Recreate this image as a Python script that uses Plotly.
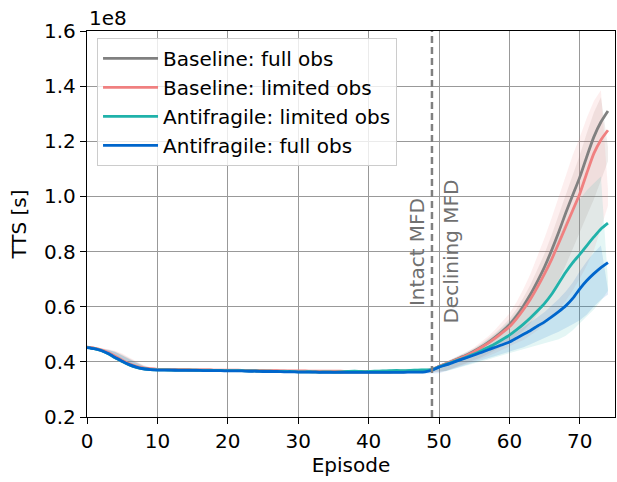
import plotly.graph_objects as go

episodes = list(range(75))

baseline_full = [0.453, 0.449, 0.442, 0.431, 0.417, 0.403, 0.391, 0.382, 0.376, 0.373,
                 0.372, 0.372, 0.371, 0.371, 0.371, 0.370, 0.370, 0.370, 0.369, 0.369,
                 0.369, 0.368, 0.368, 0.368, 0.367, 0.367, 0.366, 0.366, 0.366, 0.365,
                 0.365, 0.365, 0.364, 0.364, 0.364, 0.364, 0.363, 0.363, 0.363, 0.363,
                 0.363, 0.363, 0.363, 0.363, 0.364, 0.364, 0.365, 0.366, 0.367, 0.372,
                 0.383, 0.393, 0.404, 0.415, 0.426, 0.439, 0.454, 0.471, 0.490, 0.511,
                 0.535, 0.566, 0.603, 0.645, 0.693, 0.745, 0.805, 0.870, 0.940, 1.005,
                 1.070, 1.145, 1.216, 1.270, 1.310]
baseline_limited = [0.453, 0.450, 0.444, 0.434, 0.420, 0.406, 0.393, 0.384, 0.378, 0.375,
                    0.373, 0.373, 0.372, 0.372, 0.372, 0.371, 0.371, 0.371, 0.370, 0.370,
                    0.370, 0.370, 0.369, 0.369, 0.369, 0.368, 0.368, 0.368, 0.367, 0.367,
                    0.367, 0.367, 0.366, 0.366, 0.366, 0.366, 0.366, 0.365, 0.365, 0.365,
                    0.365, 0.365, 0.365, 0.365, 0.366, 0.366, 0.366, 0.367, 0.368, 0.372,
                    0.383, 0.393, 0.403, 0.413, 0.424, 0.437, 0.452, 0.468, 0.486, 0.506,
                    0.527, 0.556, 0.590, 0.628, 0.672, 0.720, 0.772, 0.830, 0.890, 0.950,
                    1.010, 1.085, 1.156, 1.205, 1.240]
antifragile_limited = [0.452, 0.448, 0.441, 0.429, 0.415, 0.401, 0.389, 0.380, 0.375, 0.372,
                       0.371, 0.371, 0.370, 0.370, 0.370, 0.370, 0.369, 0.369, 0.369, 0.369,
                       0.368, 0.368, 0.368, 0.367, 0.367, 0.366, 0.366, 0.365, 0.365, 0.365,
                       0.364, 0.364, 0.364, 0.363, 0.364, 0.363, 0.364, 0.365, 0.366, 0.365,
                       0.365, 0.366, 0.367, 0.368, 0.369, 0.368, 0.369, 0.370, 0.371, 0.372,
                       0.382, 0.391, 0.400, 0.409, 0.418, 0.428, 0.440, 0.453, 0.466, 0.481,
                       0.497, 0.516, 0.537, 0.560, 0.585, 0.612, 0.645, 0.685, 0.725, 0.760,
                       0.790, 0.822, 0.853, 0.882, 0.903]
antifragile_full = [0.452, 0.448, 0.441, 0.430, 0.416, 0.402, 0.390, 0.381, 0.375, 0.372,
                    0.370, 0.370, 0.370, 0.369, 0.369, 0.369, 0.369, 0.368, 0.368, 0.368,
                    0.367, 0.367, 0.367, 0.366, 0.366, 0.365, 0.365, 0.365, 0.364, 0.364,
                    0.363, 0.363, 0.363, 0.362, 0.362, 0.362, 0.362, 0.362, 0.362, 0.362,
                    0.362, 0.362, 0.362, 0.362, 0.362, 0.362, 0.363, 0.363, 0.364, 0.370,
                    0.381, 0.389, 0.398, 0.407, 0.416, 0.425, 0.434, 0.444, 0.453, 0.462,
                    0.472, 0.486, 0.500, 0.514, 0.530, 0.545, 0.563, 0.582, 0.603, 0.630,
                    0.665, 0.695, 0.720, 0.742, 0.760]

std_baseline_full = [0.004] * 49 + [0.004, 0.005, 0.006, 0.007, 0.008, 0.009, 0.010, 0.012, 0.014, 0.016,
                                    0.018, 0.021, 0.025, 0.030, 0.036, 0.042, 0.048, 0.055, 0.062, 0.068,
                                    0.074, 0.080, 0.085, 0.088, 0.090]
std_baseline_limited = [0.004] * 49 + [0.004, 0.005, 0.007, 0.009, 0.011, 0.013, 0.016, 0.020, 0.025, 0.031,
                                       0.038, 0.048, 0.060, 0.075, 0.092, 0.110, 0.130, 0.150, 0.170, 0.188,
                                       0.200, 0.205, 0.200, 0.190, 0.180]
std_antifragile_limited = [0.005] * 49 + [0.006, 0.007, 0.009, 0.011, 0.013, 0.016, 0.019, 0.023, 0.028, 0.034,
                                          0.041, 0.050, 0.062, 0.076, 0.092, 0.110, 0.130, 0.150, 0.170, 0.185,
                                          0.195, 0.200, 0.200, 0.195, 0.190]
std_antifragile_full = [0.005] * 49 + [0.005, 0.006, 0.007, 0.008, 0.009, 0.010, 0.011, 0.012, 0.013, 0.015,
                                       0.017, 0.019, 0.022, 0.025, 0.028, 0.032, 0.036, 0.041, 0.046, 0.052,
                                       0.058, 0.064, 0.070, 0.076, 0.080]

series = [
    ("Baseline: full obs", baseline_full, std_baseline_full, "#808080", "rgba(150,120,110,0.14)"),
    ("Baseline: limited obs", baseline_limited, std_baseline_limited, "#f08080", "rgba(240,128,128,0.13)"),
    ("Antifragile: limited obs", antifragile_limited, std_antifragile_limited, "#20b2aa", "rgba(32,178,170,0.12)"),
    ("Antifragile: full obs", antifragile_full, std_antifragile_full, "#0066cc", "rgba(0,102,204,0.13)"),
]

y_ticks = [0.2, 0.4, 0.6, 0.8, 1.0, 1.2, 1.4, 1.6]
x_ticks = [0, 10, 20, 30, 40, 50, 60, 70]
font_family = "DejaVu Sans"
fs = 20

fig = go.Figure()

for name, mean, std, color, fillc in series:
    upper = [m + s for m, s in zip(mean, std)]
    lower = [m - s for m, s in zip(mean, std)]
    fig.add_trace(go.Scatter(
        x=episodes + episodes[::-1], y=upper + lower[::-1],
        fill="toself", fillcolor=fillc, line=dict(width=0),
        mode="lines", hoverinfo="skip", showlegend=False))

for i, (name, mean, std, color, fillc) in enumerate(series):
    fig.add_trace(go.Scatter(
        x=episodes, y=mean, mode="lines", name=name,
        line=dict(color=color, width=2.8, shape="spline", smoothing=0.6),
        legendgroup="g%d" % i))

fig.add_shape(type="line", x0=49, x1=49, y0=0, y1=1, xref="x", yref="paper",
              line=dict(color="#808080", width=2.5, dash="7px,4px"))

fig.add_annotation(x=46.8, y=0.80, xref="x", yref="y", text="Intact MFD",
                   textangle=-90, showarrow=False,
                   font=dict(family=font_family, size=fs, color="#707070"))
fig.add_annotation(x=51.7, y=0.80, xref="x", yref="y", text="Declining MFD",
                   textangle=-90, showarrow=False,
                   font=dict(family=font_family, size=fs, color="#707070"))
fig.add_annotation(x=0, y=1.0, xref="paper", yref="paper", text="1e8",
                   xanchor="left", yanchor="bottom", showarrow=False, yshift=-1,
                   font=dict(family=font_family, size=fs, color="black"))

axis_common = dict(
    showline=True, linecolor="black", linewidth=1.3, mirror=True,
    ticks="outside", ticklen=6, tickwidth=1.3, tickcolor="black",
    showgrid=True, gridcolor="#999999", gridwidth=1, zeroline=False,
    tickfont=dict(family=font_family, size=fs, color="black"),
)

fig.update_layout(
    width=617, height=482,
    margin=dict(l=87, r=2, t=31, b=65),
    paper_bgcolor="white", plot_bgcolor="white",
    font=dict(family=font_family, size=fs, color="black"),
    xaxis=dict(range=[0, 75], tickvals=x_ticks, ticktext=[str(v) for v in x_ticks],
               title=dict(text="Episode", font=dict(family=font_family, size=fs), standoff=5),
               **axis_common),
    yaxis=dict(range=[0.2, 1.6], tickvals=y_ticks, ticktext=["%.1f" % v for v in y_ticks],
               title=dict(text="TTS [s]", font=dict(family=font_family, size=fs), standoff=12),
               **axis_common),
    legend=dict(x=0.019, y=0.982, xanchor="left", yanchor="top",
                bgcolor="rgba(255,255,255,0.8)", bordercolor="#cccccc", borderwidth=1,
                font=dict(family=font_family, size=fs, color="black"),
                itemwidth=55, tracegroupgap=0),
    showlegend=True,
)

fig.write_html("out.html")
